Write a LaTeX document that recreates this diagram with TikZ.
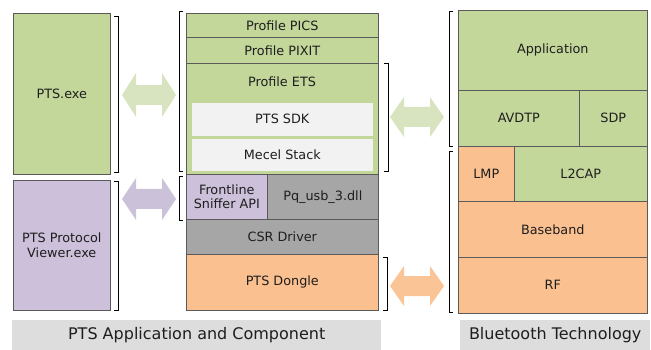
\documentclass[tikz,border=0pt]{standalone}
\usepackage{fontspec}
\setmainfont{DejaVu Sans}
\usepackage{xcolor}
\usepackage{tikz}
\usetikzlibrary{positioning, calc}

\definecolor{ptsgreen}{HTML}{C4D79B}
\definecolor{ptslav}{HTML}{CCC0DA}
\definecolor{ptsorange}{HTML}{FAC090}
\definecolor{ptsgray}{HTML}{A6A6A6}
\definecolor{ptslight}{HTML}{F2F2F2}
\definecolor{ptsband}{HTML}{DDDDDD}
\definecolor{arrgreen}{HTML}{D8E4BF}
\definecolor{arrlav}{HTML}{CBC2DA}
\definecolor{arrorange}{HTML}{FAC497}
\definecolor{ptsline}{HTML}{5A5A5A}
\definecolor{ptstext}{HTML}{1E1E1E}

\begin{document}
\begin{tikzpicture}[x=1pt, y=-1pt,
    box/.style={draw=ptsline, line width=0.6pt, anchor=north west, inner sep=0pt,
        align=center, text=ptstext, font=\fontsize{12.8}{14.5}\selectfont},
    greenbox/.style={box, fill=ptsgreen},
    lavbox/.style={box, fill=ptslav},
    orangebox/.style={box, fill=ptsorange},
    graybox/.style={box, fill=ptsgray},
    lightbox/.style={box, fill=ptslight, draw=ptslight},
    band/.style={fill=ptsband, anchor=north west, inner sep=0pt, text=ptstext,
        font=\fontsize{16}{18}\selectfont},
    brk/.style={line width=1pt, black}]
\useasboundingbox (0,0) rectangle (651,350);

% Left column
\node[greenbox, minimum width=97pt, minimum height=161pt] (exe) at (13,13) {PTS.exe};
\node[lavbox, minimum width=97pt, minimum height=130pt] (viewer) at (13,180) {PTS Protocol\\Viewer.exe};

% PTS stack
\node[greenbox, minimum width=192pt, minimum height=24pt] (pics) at (186,13) {Profile PICS};
\node[greenbox, minimum width=192pt, minimum height=26pt] (pixit) at (186,37) {Profile PIXIT};
\node[greenbox, minimum width=192pt, minimum height=111pt] (ets) at (186,63) {};
\node[text=ptstext, font=\fontsize{12.8}{14.5}\selectfont] (etslbl) at (282,82) {Profile ETS};
\node[lightbox, minimum width=180pt, minimum height=32pt] (sdk) at (192,103) {PTS SDK};
\node[lightbox, minimum width=180pt, minimum height=31pt] (mecel) at (192,139) {Mecel Stack};
\node[lavbox, minimum width=81pt, minimum height=45pt] (sniffer) at (186,174) {Frontline\\Sniffer API};
\node[graybox, minimum width=111pt, minimum height=45pt] (pqusb) at (267,174) {Pq\_usb\_3.dll};
\node[graybox, minimum width=192pt, minimum height=35pt] (csr) at (186,219) {CSR Driver};
\node[orangebox, minimum width=192pt, minimum height=56pt] (dongle) at (186,254) {PTS Dongle};

% Bluetooth stack
\node[greenbox, minimum width=189pt, minimum height=80pt] (app) at (458,10) {Application};
\node[greenbox, minimum width=121pt, minimum height=56pt] (avdtp) at (458,90) {AVDTP};
\node[greenbox, minimum width=68pt, minimum height=56pt] (sdp) at (579,90) {SDP};
\node[orangebox, minimum width=56pt, minimum height=55pt] (lmp) at (458,146) {LMP};
\node[greenbox, minimum width=133pt, minimum height=55pt] (l2cap) at (514,146) {L2CAP};
\node[orangebox, minimum width=189pt, minimum height=56pt] (baseband) at (458,201) {Baseband};
\node[orangebox, minimum width=189pt, minimum height=56pt] (rf) at (458,257) {RF};

% Brackets
\foreach \x/\ya/\yb/\d in {118/17/173/-4, 118/182/310/-4, 179/12/172/4, 179/177/220/4,
    388/64/172/-4, 387/257/310/-4, 449/12/147/4, 449/152/312/4} {
    \draw[brk] (\x+\d,\ya) -- (\x,\ya) -- (\x,\yb) -- (\x+\d,\yb);
}

% Block arrows
\foreach \cx/\cy/\h/\col in {149/95/22/arrgreen, 149/199/21/arrlav, 417/117/20/arrgreen, 417/286/20/arrorange} {
    \fill[\col] (\cx-27,\cy) -- (\cx-13,\cy-\h) -- (\cx-13,\cy-10) -- (\cx+13,\cy-10)
        -- (\cx+13,\cy-\h) -- (\cx+27,\cy) -- (\cx+13,\cy+\h) -- (\cx+13,\cy+10)
        -- (\cx-13,\cy+10) -- (\cx-13,\cy+\h) -- cycle;
}

% Captions
\node[band, minimum width=369pt, minimum height=30pt] (ptscap) at (12,320) {PTS Application and Component};
\node[band, minimum width=190pt, minimum height=30pt] (btcap) at (460,320) {Bluetooth Technology};
\end{tikzpicture}
\end{document}
